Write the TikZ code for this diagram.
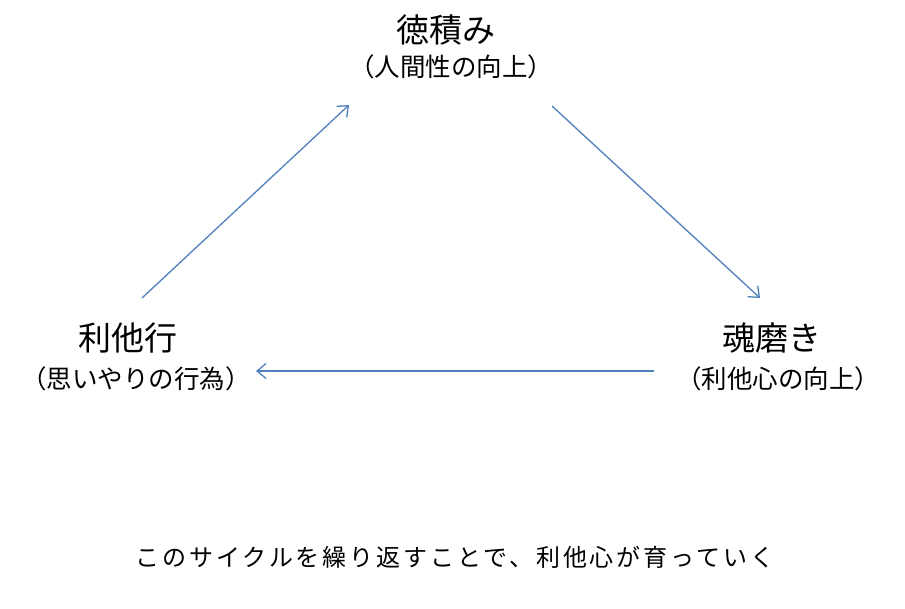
\documentclass[tikz,border=0pt]{standalone}
\usepackage{fontspec}
\newfontfamily\jpfont{Noto Sans CJK JP}
\usetikzlibrary{arrows.meta}
\definecolor{cycleblue}{HTML}{4F81BD}

\begin{document}
\begin{tikzpicture}[x=1pt,y=-1pt,
      every node/.style={inner sep=0pt,text=black},
      titletext/.style={font=\jpfont\fontsize{33}{33}\selectfont},
      subtext/.style={font=\jpfont\fontsize{25.5}{25.5}\selectfont},
      notetext/.style={font=\jpfont\fontsize{24}{24}\selectfont\addfontfeatures{LetterSpace=12}},
      cyclearrow/.style={draw=cycleblue,line width=1.3pt,
                         -{Straight Barb[length=9pt,width=15pt,line width=1.3pt]}},
    ]
      \useasboundingbox[fill=white] (0,0) rectangle (905,608);
      % the three stages
      \node[titletext] (toku) at (446,30) {徳積み};
      \node[subtext] (tokusub) at (451,67) {（人間性の向上）};
      \node[titletext] (tama) at (772,338) {魂磨き};
      \node[subtext] (tamasub) at (778,379) {（利他心の向上）};
      \node[titletext] (rita) at (128,338) {利他行};
      \node[subtext] (ritasub) at (136,379) {（思いやりの行為）};
      % arrow ends
      \coordinate (ritaout) at (142,298);
      \coordinate (tokuin) at (349,105);
      \coordinate (tokuout) at (552,106);
      \coordinate (tamain) at (760,298);
      \coordinate (tamaout) at (654,371);
      \coordinate (ritain) at (256,371);
      \path (ritaout) edge[cyclearrow] (tokuin);
      \path (tokuout) edge[cyclearrow] (tamain);
      \path (tamaout) edge[cyclearrow] (ritain);
      \node[notetext] (note) at (455,557) {このサイクルを繰り返すことで、利他心が育っていく};
    \end{tikzpicture}
\end{document}
